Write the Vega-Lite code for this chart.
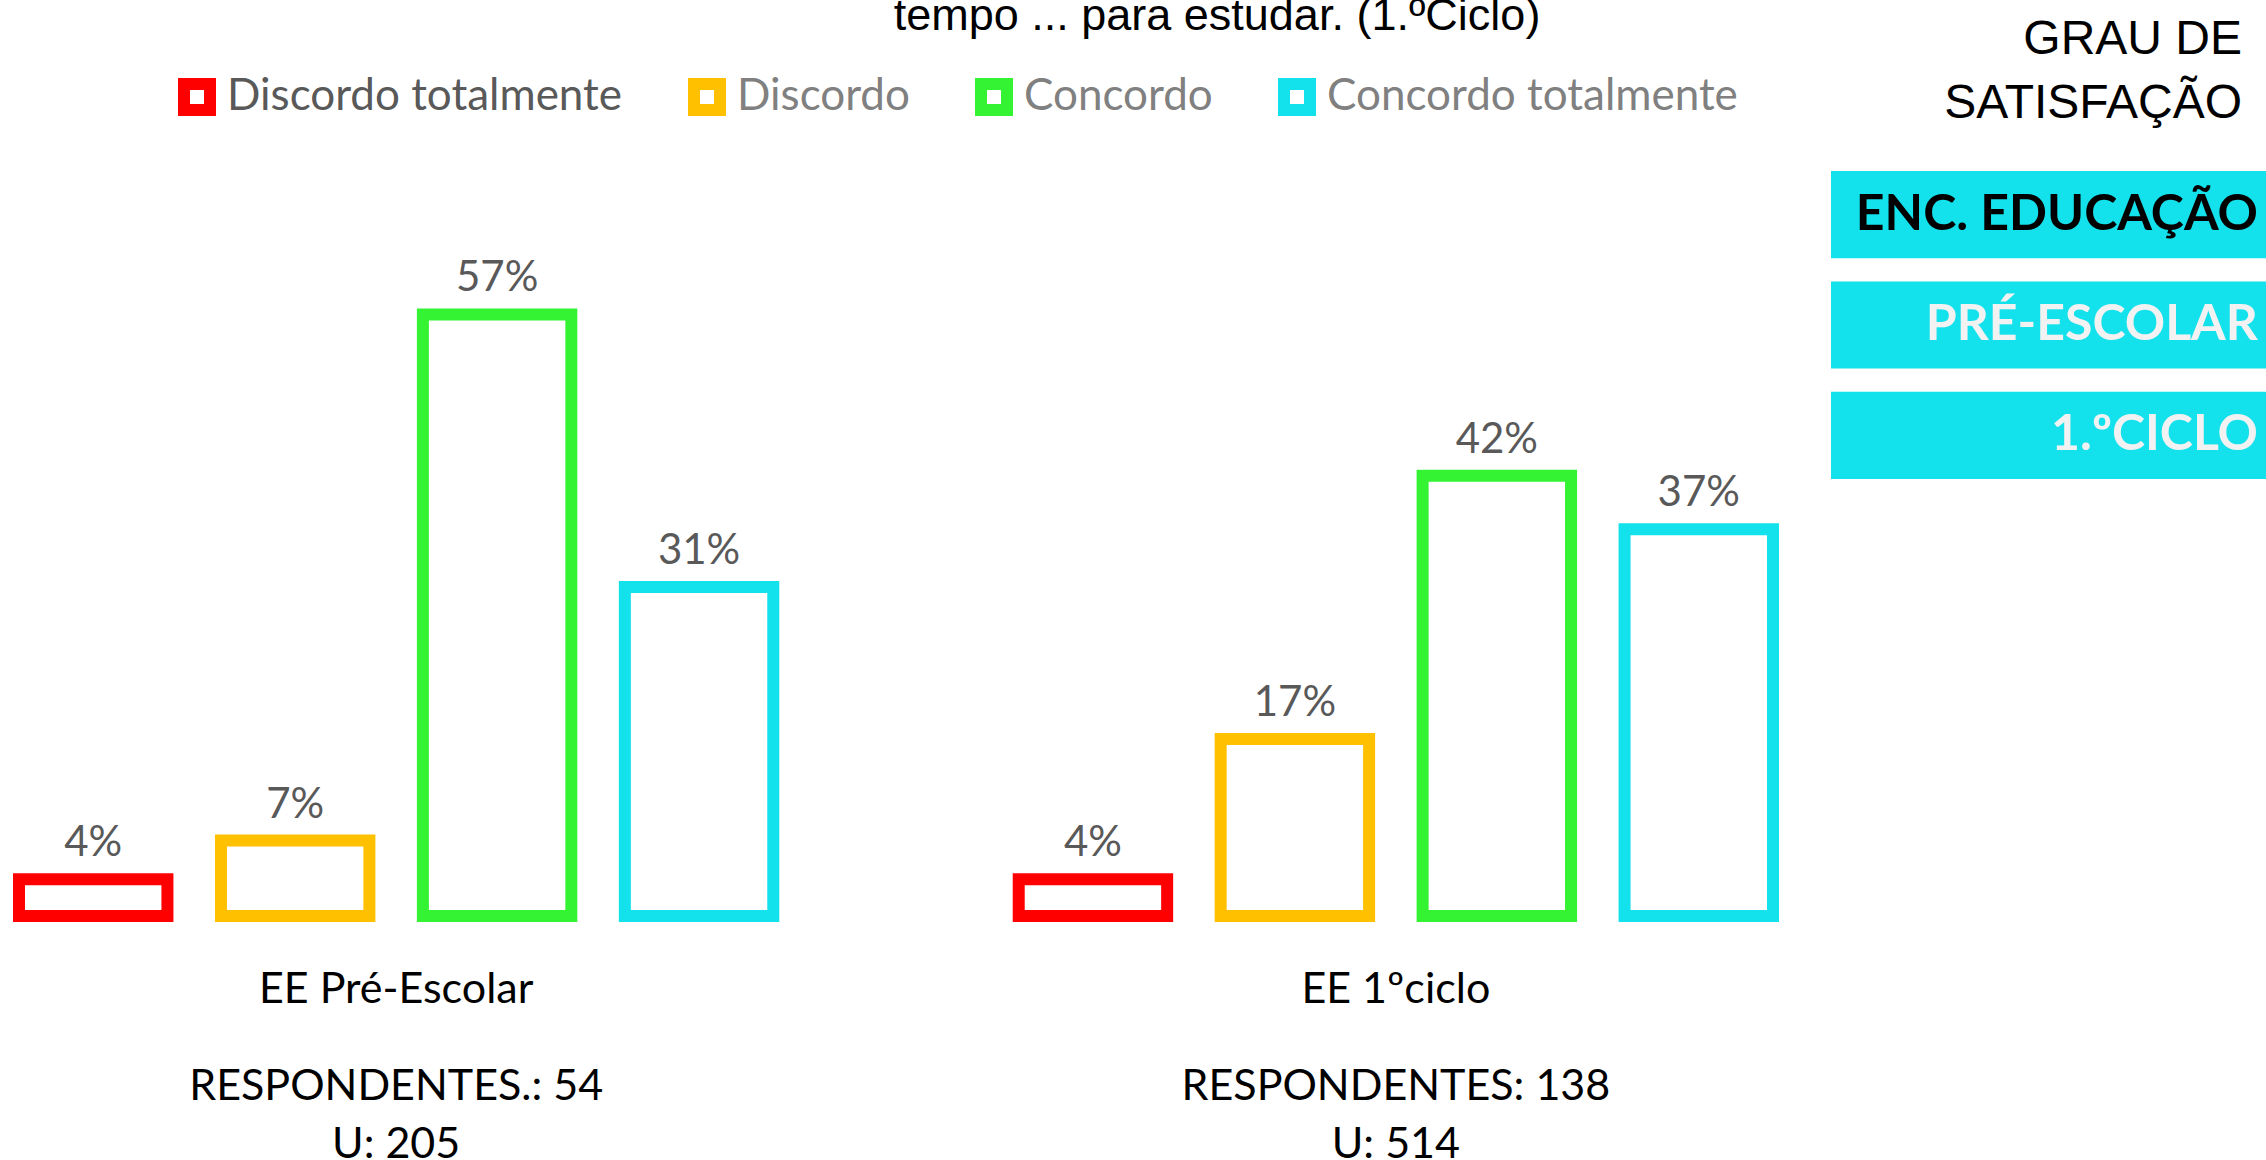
{
  "$schema": "https://vega.github.io/schema/vega-lite/v6.json",
  "background": "white",
  "padding": {"left": 13, "top": -6, "right": 0, "bottom": 0},
  "spacing": 58,
  "bounds": "flush",
  "config": {"view": {"stroke": null}, "font": "Lato"},
  "hconcat": [
    {
      "width": 1754,
      "height": 788,
      "title": {
        "text": "tempo ... para estudar.  (1.ºCiclo)",
        "font": "Liberation Sans",
        "fontSize": 45,
        "fontWeight": "normal",
        "color": "black",
        "anchor": "middle",
        "frame": "group",
        "dx": 321,
        "baseline": "alphabetic",
        "offset": 53
      },
      "data": {
        "values": [
          {"grupo": "EE Pré-Escolar", "resumo": "RESPONDENTES.: 54\nU: 205", "resposta": "Discordo totalmente", "valor": 0.035},
          {"grupo": "EE Pré-Escolar", "resumo": "RESPONDENTES.: 54\nU: 205", "resposta": "Discordo", "valor": 0.072},
          {"grupo": "EE Pré-Escolar", "resumo": "RESPONDENTES.: 54\nU: 205", "resposta": "Concordo", "valor": 0.574},
          {"grupo": "EE Pré-Escolar", "resumo": "RESPONDENTES.: 54\nU: 205", "resposta": "Concordo totalmente", "valor": 0.314},
          {"grupo": "EE 1ºciclo", "resumo": "RESPONDENTES: 138\nU: 514", "resposta": "Discordo totalmente", "valor": 0.035},
          {"grupo": "EE 1ºciclo", "resumo": "RESPONDENTES: 138\nU: 514", "resposta": "Discordo", "valor": 0.169},
          {"grupo": "EE 1ºciclo", "resumo": "RESPONDENTES: 138\nU: 514", "resposta": "Concordo", "valor": 0.42},
          {"grupo": "EE 1ºciclo", "resumo": "RESPONDENTES: 138\nU: 514", "resposta": "Concordo totalmente", "valor": 0.369}
        ]
      },
      "resolve": {"scale": {"x": "independent"}, "axis": {"x": "independent"}},
      "layer": [
        {
          "mark": {"type": "bar", "filled": false, "strokeWidth": 12, "strokeJoin": "miter"},
          "encoding": {
            "x": {
              "field": "grupo",
              "type": "nominal",
              "sort": null,
              "scale": {"paddingInner": 0.2455, "paddingOuter": 0},
              "axis": {
                "orient": "bottom",
                "title": null,
                "ticks": false,
                "domain": false,
                "labelAngle": 0,
                "labelFont": "Lato",
                "labelFontSize": 43,
                "labelColor": "black",
                "labelBaseline": "alphabetic",
                "labelPadding": 86,
                "labelLimit": 0
              }
            },
            "xOffset": {
              "field": "resposta",
              "type": "nominal",
              "sort": ["Discordo totalmente", "Discordo", "Concordo", "Concordo totalmente"],
              "scale": {"paddingInner": 0.265, "paddingOuter": 0}
            },
            "y": {
              "field": "valor",
              "type": "quantitative",
              "scale": {"domain": [0, 0.7519], "nice": false, "zero": true},
              "axis": null
            },
            "stroke": {
              "field": "resposta",
              "type": "nominal",
              "sort": ["Discordo totalmente", "Discordo", "Concordo", "Concordo totalmente"],
              "scale": {
                "domain": ["Discordo totalmente", "Discordo", "Concordo", "Concordo totalmente"],
                "range": ["#FF0000", "#FFC000", "#33F333", "#13E1EC"]
              },
              "legend": {
                "title": null,
                "orient": "none",
                "direction": "horizontal",
                "legendX": 156,
                "legendY": -53,
                "padding": 0,
                "symbolType": "square",
                "symbolSize": 676,
                "symbolStrokeWidth": 12,
                "symbolFillColor": "white",
                "labelFont": "Lato",
                "labelFontSize": 44,
                "labelColor": {"expr": "datum.label === 'Discordo totalmente' ? '#595959' : '#808080'"},
                "labelOffset": 8,
                "labelLimit": 1000,
                "columnPadding": 47
              }
            }
          }
        },
        {
          "mark": {
            "type": "text",
            "baseline": "alphabetic",
            "align": "center",
            "dy": -23,
            "font": "Lato",
            "fontSize": 42,
            "color": "#595959"
          },
          "encoding": {
            "x": {
              "field": "resumo",
              "type": "nominal",
              "sort": null,
              "scale": {"paddingInner": 0.2455, "paddingOuter": 0},
              "axis": {
                "orient": "bottom",
                "title": null,
                "ticks": false,
                "domain": false,
                "labelAngle": 0,
                "labelFont": "Lato",
                "labelFontSize": 43,
                "labelColor": "black",
                "labelExpr": "split(datum.value, '\\n')",
                "labelLineHeight": 58,
                "labelBaseline": "alphabetic",
                "labelPadding": 183,
                "labelLimit": 0
              }
            },
            "xOffset": {
              "field": "resposta",
              "type": "nominal",
              "sort": ["Discordo totalmente", "Discordo", "Concordo", "Concordo totalmente"],
              "scale": {"paddingInner": 0.265, "paddingOuter": 0}
            },
            "y": {
              "field": "valor",
              "type": "quantitative",
              "scale": {"domain": [0, 0.7519], "nice": false, "zero": true},
              "axis": null
            },
            "text": {"field": "valor", "type": "quantitative", "format": ".0%"}
          }
        }
      ]
    },
    {
      "width": 435,
      "height": 394,
      "title": {
        "text": ["GRAU DE", "SATISFAÇÃO"],
        "font": "Liberation Sans",
        "fontSize": 48,
        "fontWeight": "normal",
        "color": "black",
        "anchor": "end",
        "frame": "group",
        "lineHeight": 63.6,
        "dx": -24,
        "offset": 0
      },
      "data": {
        "values": [
          {"painel": "ENC. EDUCAÇÃO"},
          {"painel": "PRÉ-ESCOLAR"},
          {"painel": "1.ºCICLO"}
        ]
      },
      "encoding": {
        "y": {
          "field": "painel",
          "type": "nominal",
          "sort": null,
          "axis": null,
          "scale": {"paddingInner": 0.21, "paddingOuter": 0.39}
        }
      },
      "layer": [
        {
          "mark": {"type": "bar", "color": "#13E1EC"}
        },
        {
          "mark": {
            "type": "text",
            "align": "right",
            "baseline": "middle",
            "dx": -8,
            "font": "Lato",
            "fontWeight": "bold",
            "fontSize": 50
          },
          "encoding": {
            "x": {"value": "width"},
            "text": {"field": "painel", "type": "nominal"},
            "color": {
              "condition": {"test": "datum.painel === 'ENC. EDUCAÇÃO'", "value": "black"},
              "value": "#F2F2F2"
            }
          }
        }
      ]
    }
  ]
}
